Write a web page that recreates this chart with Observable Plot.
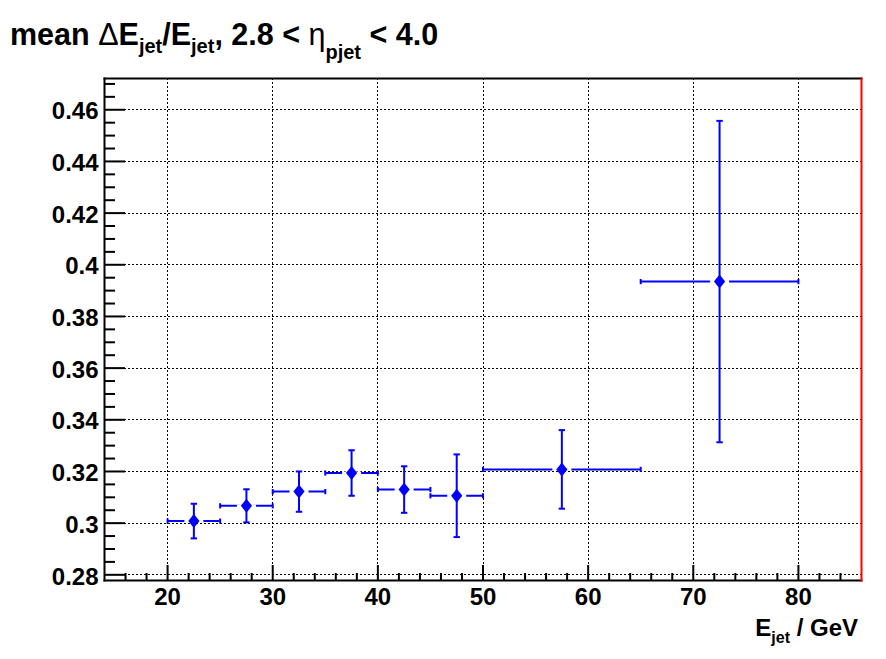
<!DOCTYPE html>
<html>
<head>
<meta charset="utf-8">
<script src="https://cdn.jsdelivr.net/npm/d3@7"></script>
<script src="https://cdn.jsdelivr.net/npm/@observablehq/plot@0.6"></script>
<style>
  html, body { margin: 0; padding: 0; background: #fff; }
  #wrap { position: relative; width: 886px; height: 659px; overflow: hidden; }
  #wrap > svg { position: absolute; left: 0; top: 0; }
</style>
</head>
<body>
<div id="wrap"></div>
<script>
// ---- data ----
const binLo   = [20, 25, 30, 35, 40, 45, 50, 65];
const binHi   = [25, 30, 35, 40, 45, 50, 65, 80];
const meanVal = [0.3008, 0.3067, 0.3122, 0.3194, 0.3130, 0.3106, 0.3208, 0.3935];
const errVal  = [0.0067, 0.0064, 0.0078, 0.0088, 0.0090, 0.0160, 0.0152, 0.0622];
const xTicks  = [20, 30, 40, 50, 60, 70, 80];
const yTicks  = [0.28, 0.30, 0.32, 0.34, 0.36, 0.38, 0.40, 0.42, 0.44, 0.46];
const xMinor  = [16, 18, 22, 24, 26, 28, 32, 34, 36, 38, 42, 44, 46, 48, 52, 54, 56, 58, 62, 64, 66, 68, 72, 74, 76, 78, 82, 84];
const yMinor  = [0.285, 0.29, 0.295, 0.305, 0.31, 0.315, 0.325, 0.33, 0.335, 0.345, 0.35, 0.355, 0.365, 0.37, 0.375, 0.385, 0.39, 0.395, 0.405, 0.41, 0.415, 0.425, 0.43, 0.435, 0.445, 0.45, 0.455, 0.465, 0.47];
const xDomain = [14, 86];
const yDomain = [0.2778, 0.4721];

const data = binLo.map((lo, i) => ({
  lo, hi: binHi[i], x: (lo + binHi[i]) / 2,
  mean: meanVal[i], err: errVal[i],
  ylo: meanVal[i] - errVal[i], yhi: meanVal[i] + errVal[i]
}));

// ---- custom symbols ----
const rad = size => Math.sqrt(size / Math.PI);
const capH = { draw(ctx, size) { const r = rad(size); ctx.moveTo(-r, 0); ctx.lineTo(r, 0); } };
const capV = { draw(ctx, size) { const r = rad(size); ctx.moveTo(0, -r); ctx.lineTo(0, r); } };
const diamond = { draw(ctx, size) { const r = rad(size); const w = r * 0.8;
  ctx.moveTo(0, -r); ctx.lineTo(w, 0); ctx.lineTo(0, r); ctx.lineTo(-w, 0); ctx.closePath(); } };
const gap = { draw(ctx, size) { const r = rad(size); ctx.rect(-r, -1.5, 2 * r, 3); } };

const FONT = "'Liberation Sans', Arial, Helvetica, sans-serif";
const BLUE = "#0000ff";
const fmtY = d => String(+d.toFixed(3));

const gridOpts = { stroke: "black", strokeOpacity: 1, strokeDasharray: "2,2", strokeWidth: 1, shapeRendering: "crispEdges" };

const plot = Plot.plot({
  width: 886,
  height: 659,
  marginLeft: 104,
  marginRight: 25,
  marginTop: 78,
  marginBottom: 79,
  style: { background: "white", fontFamily: FONT },
  x: { domain: xDomain },
  y: { domain: yDomain },
  marks: [
    Plot.gridX(xTicks, gridOpts),
    Plot.gridY(yTicks, gridOpts),
    // ticks pointing inward
    Plot.axisX(xTicks, { tickSize: -15, tickFormat: () => "", strokeWidth: 2, label: null }),
    Plot.axisX(xMinor, { tickSize: -7, tickFormat: () => "", strokeWidth: 2, label: null }),
    Plot.axisY(yTicks, { tickSize: -21, tickFormat: () => "", strokeWidth: 2, label: null }),
    Plot.axisY(yMinor, { tickSize: -11, tickFormat: () => "", strokeWidth: 2, label: null }),
    // tick labels
    Plot.axisX(xTicks, { tickSize: 0, tickPadding: 7, fontSize: 24, fontWeight: "bold", fontFamily: FONT, fill: "black", label: null }),
    Plot.axisY(yTicks, { tickSize: 0, tickPadding: 6, tickFormat: fmtY, fontSize: 24, fontWeight: "bold", fontFamily: FONT, fill: "black", label: null, dy: 2 }),
    // error bars
    Plot.ruleY(data, { y: "mean", x1: "lo", x2: "hi", stroke: BLUE, strokeWidth: 2 }),
    Plot.dot(data, { x: "lo", y: "mean", symbol: capV, r: 2.6, stroke: BLUE, strokeWidth: 2, fill: "none" }),
    Plot.dot(data, { x: "hi", y: "mean", symbol: capV, r: 2.6, stroke: BLUE, strokeWidth: 2, fill: "none" }),
    Plot.dot(data, { x: "x", y: "mean", symbol: gap, r: 9.5, fill: "white", stroke: "none" }),
    Plot.ruleX(data, { x: "x", y1: "ylo", y2: "yhi", stroke: BLUE, strokeWidth: 2 }),
    Plot.dot(data, { x: "x", y: "ylo", symbol: capH, r: 3.2, stroke: BLUE, strokeWidth: 2, fill: "none" }),
    Plot.dot(data, { x: "x", y: "yhi", symbol: capH, r: 3.2, stroke: BLUE, strokeWidth: 2, fill: "none" }),
    Plot.dot(data, { x: "x", y: "mean", symbol: diamond, r: 7, fill: BLUE, stroke: "none" }),
    // frame: black top/left/bottom, red right
    Plot.frame({ anchor: "top", stroke: "black", strokeWidth: 2 }),
    Plot.frame({ anchor: "left", stroke: "black", strokeWidth: 2 }),
    Plot.frame({ anchor: "bottom", stroke: "black", strokeWidth: 2 }),
    Plot.frame({ anchor: "right", stroke: "red", strokeWidth: 2 })
  ]
});
document.getElementById("wrap").appendChild(plot);

// ---- overlay text: title and x-axis label (real text with subscripts) ----
const ov = d3.select("#wrap").append("svg")
  .attr("width", 886).attr("height", 659)
  .style("pointer-events", "none")
  .attr("font-family", FONT).attr("font-weight", "bold").attr("fill", "black");

const title = ov.append("text").attr("x", 10).attr("y", 45).attr("font-size", 30.5);
title.append("tspan").text("mean ");
title.append("tspan").attr("font-weight", "normal").text("\u0394");
title.append("tspan").text("E");
title.append("tspan").attr("font-size", 20).attr("dy", 8).text("jet");
title.append("tspan").attr("dy", -8).text("/E");
title.append("tspan").attr("font-size", 20).attr("dy", 8).text("jet");
title.append("tspan").attr("dy", -8).text(", 2.8 < ");
title.append("tspan").attr("font-weight", "normal").text("\u03b7");
title.append("tspan").attr("font-size", 20).attr("dy", 14).text("pjet");
title.append("tspan").attr("dy", -14).text(" < 4.0");

const xl = ov.append("text").attr("x", 858).attr("y", 636).attr("text-anchor", "end").attr("font-size", 24);
xl.append("tspan").text("E");
xl.append("tspan").attr("font-size", 16).attr("dy", 7).text("jet");
xl.append("tspan").attr("dy", -7).text(" / GeV");
</script>
</body>
</html>
